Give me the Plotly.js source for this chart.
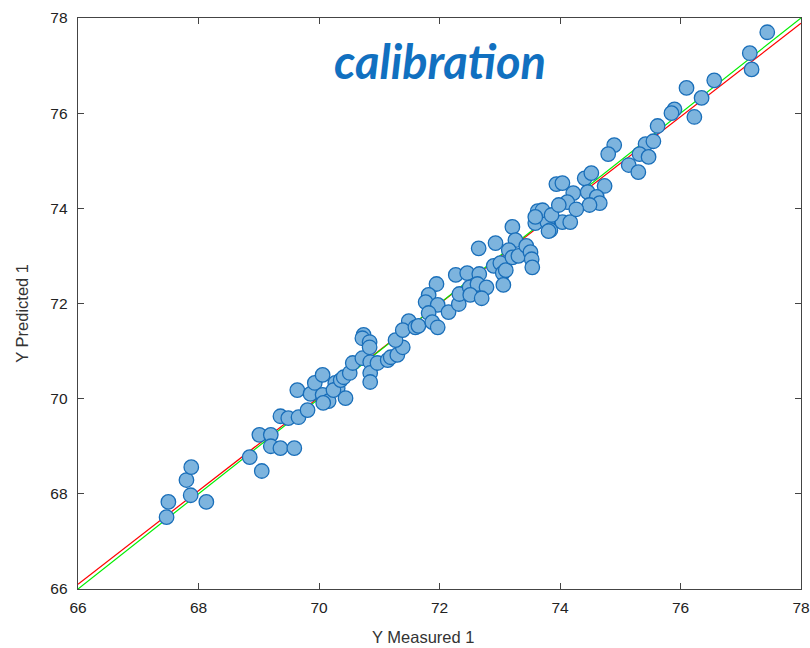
<!DOCTYPE html>
<html>
<head>
<meta charset="utf-8">
<script src="https://cdn.plot.ly/plotly-3.0.1.min.js"></script>
<style>html,body{margin:0;padding:0;background:#fff;}#chart{width:810px;height:648px;}</style>
</head>
<body>
<div id="chart"></div>
<script>
const measured = [67.47,67.50,67.80,67.88,67.87,68.13,68.85,69.05,69.01,69.20,69.20,69.36,69.59,69.36,69.49,69.66,69.81,69.64,69.86,69.93,70.06,70.06,70.16,70.07,70.27,70.31,70.24,70.44,70.36,70.41,70.51,70.56,70.72,70.85,70.85,70.85,70.97,70.74,70.72,70.84,70.84,71.14,71.19,71.30,71.39,71.27,71.49,71.39,71.60,71.65,71.95,71.82,71.77,71.97,71.82,71.88,71.97,72.15,72.32,72.33,72.27,72.46,72.66,72.50,72.63,72.78,72.51,72.70,72.65,72.93,72.90,73.01,73.05,73.10,73.06,73.21,73.26,73.15,73.21,73.31,73.44,73.51,73.53,73.54,73.59,73.79,73.84,74.04,74.17,73.63,73.71,73.59,73.86,73.81,73.94,74.04,74.41,74.52,74.74,74.22,74.12,73.98,74.46,74.61,74.66,74.49,74.27,74.90,74.80,75.42,75.55,75.32,75.47,75.14,75.30,75.62,75.90,75.85,76.10,76.56,76.35,76.23,77.15,77.18,77.44];
const predicted = [67.51,67.83,68.29,68.56,67.97,67.83,68.77,68.48,69.24,69.24,69.00,68.96,68.96,69.63,69.59,69.61,69.76,70.18,70.10,70.33,70.50,70.08,69.95,69.91,70.33,70.22,70.18,70.01,70.39,70.45,70.54,70.75,70.85,70.77,70.54,70.35,70.75,71.34,71.27,71.19,71.08,70.81,70.87,70.92,71.08,71.23,71.63,71.44,71.50,71.53,72.41,72.18,72.03,71.97,71.80,71.61,71.50,71.82,71.99,72.20,72.60,72.64,72.62,72.34,72.41,72.34,72.18,72.11,73.16,73.27,72.79,72.85,72.64,72.70,72.39,73.61,73.33,73.12,72.97,73.00,73.21,73.08,72.93,72.76,73.69,73.71,73.54,73.71,73.71,73.94,73.96,73.82,73.86,73.52,74.51,74.53,74.63,74.74,74.47,74.32,74.13,74.07,74.34,74.24,74.11,74.07,73.98,75.33,75.14,75.35,75.41,75.14,75.08,74.91,74.76,75.73,76.08,76.00,76.53,76.69,76.32,75.92,77.26,76.92,77.70];
const lineX = [66, 78];
const fitY = [66.10, 77.89];
const idealY = [66, 78];
const tickVals = [66, 68, 70, 72, 74, 76, 78];
const tickText = ['66', '68', '70', '72', '74', '76', '78'];
const titleText = 'calibration';
const xTitle = 'Y Measured 1';
const yTitle = 'Y Predicted 1';

const traces = [
  {x: lineX, y: fitY, mode: 'lines', line: {color: '#ff0000', width: 1.2}, hoverinfo: 'skip', showlegend: false},
  {x: lineX, y: idealY, mode: 'lines', line: {color: '#00ee00', width: 1.2}, hoverinfo: 'skip', showlegend: false},
  {x: measured, y: predicted, mode: 'markers', showlegend: false,
   marker: {size: 14.5, color: 'rgb(125,180,222)', line: {color: 'rgb(25,110,185)', width: 1.3}}}
];

const labelFont = {family: 'Liberation Sans, Arial, sans-serif', size: 16.5, color: '#333'};

const axisCommon = {
  range: [66, 78], tickvals: tickVals, ticktext: tickText,
  ticks: 'inside', ticklen: 6, tickwidth: 1, tickcolor: '#444',
  showline: true, linecolor: '#444', linewidth: 1.3, mirror: 'ticks',
  showgrid: false, zeroline: false,
  tickfont: {family: 'Liberation Sans, Arial, sans-serif', size: 15.5, color: '#222'}
};

const layout = {
  width: 810, height: 648,
  margin: {l: 78, r: 9, t: 18, b: 59},
  paper_bgcolor: '#fff', plot_bgcolor: '#fff',
  xaxis: Object.assign({}, axisCommon, {ticklabelstandoff: 4}),
  yaxis: Object.assign({}, axisCommon, {ticklabelstandoff: 6}),
  annotations: [
    {
      text: titleText, xref: 'paper', yref: 'paper', x: 0.5, y: 0.925,
      xanchor: 'center', yanchor: 'middle', showarrow: false,
      font: {family: 'Lato, Open Sans, sans-serif', size: 47, color: 'rgb(17,112,192)', weight: 'bold', style: 'italic'}
    },
    {
      text: xTitle, xref: 'paper', yref: 'paper', x: 0.4775, y: -0.084,
      xanchor: 'center', yanchor: 'middle', showarrow: false, font: labelFont
    },
    {
      text: yTitle, xref: 'paper', yref: 'paper', x: -0.0767, y: 0.483, textangle: -90,
      xanchor: 'center', yanchor: 'middle', showarrow: false, font: labelFont
    }
  ]
};

Plotly.newPlot('chart', traces, layout, {displayModeBar: false, staticPlot: true});
</script>
</body>
</html>
